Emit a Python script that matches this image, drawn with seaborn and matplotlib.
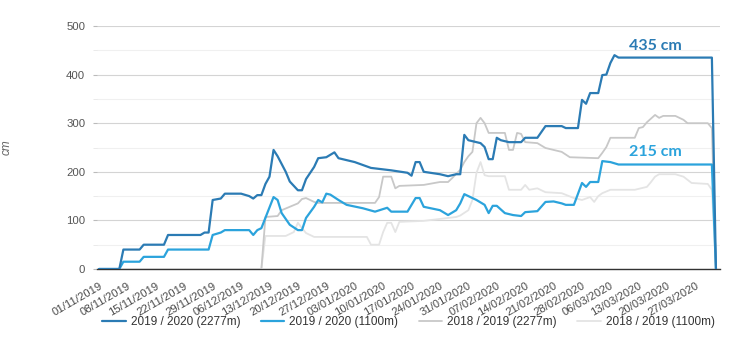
import pandas as pd
import matplotlib
matplotlib.use('Agg')
import matplotlib.pyplot as plt
from matplotlib.ticker import MultipleLocator
import seaborn as sns


start = pd.Timestamp('2019-11-01')

# snow depth (cm), keyed by days after 01/11/2019
hi_1920_day = [0, 5, 6, 10, 11, 16, 17, 25, 26, 27, 28, 30, 31, 35, 37, 38, 39, 40, 41, 42,
               43, 44, 46, 47, 49, 50, 51, 53, 54, 56, 58, 59, 63, 67, 72, 76, 77, 78, 79, 80,
               84, 86, 88, 89, 90, 91, 94, 95, 96, 97, 98, 99, 101, 104, 105, 108, 110, 114, 115, 118,
               119, 120, 121, 123, 124, 125, 126, 127, 128, 151, 152]
hi_1920_cm = [0, 0, 40, 40, 50, 50, 70, 70, 75, 75, 142, 145, 155, 155, 150, 145, 152, 152, 175, 190,
              245, 232, 200, 180, 162, 162, 185, 210, 228, 230, 240, 228, 220, 208, 203, 198, 192, 220, 220, 200,
              195, 191, 195, 195, 276, 265, 259, 251, 226, 226, 270, 265, 261, 261, 270, 270, 294, 294, 290, 290,
              348, 340, 362, 362, 399, 400, 424, 440, 435, 435, 0]

lo_1920_day = [0, 5, 6, 10, 11, 16, 17, 27, 28, 30, 31, 37, 38, 39, 40, 43, 44, 45, 47, 49,
               50, 51, 53, 54, 55, 56, 57, 59, 61, 65, 68, 71, 72, 76, 78, 79, 80, 84, 86, 88,
               89, 90, 93, 95, 96, 97, 98, 100, 102, 104, 105, 108, 110, 112, 114, 115, 117, 119, 120, 121,
               123, 124, 126, 128, 151, 152]
lo_1920_cm = [0, 0, 15, 15, 25, 25, 40, 40, 70, 75, 80, 80, 70, 80, 84, 148, 142, 115, 91, 80,
              80, 105, 128, 142, 137, 155, 153, 142, 132, 125, 118, 126, 118, 118, 146, 146, 128, 121, 111, 121,
              135, 154, 142, 132, 115, 130, 130, 115, 111, 109, 117, 119, 138, 139, 135, 132, 132, 177, 169, 179,
              179, 222, 220, 215, 215, 0]

hi_1819_day = [0, 40, 41, 44, 45, 47, 49, 50, 51, 53, 54, 68, 69, 70, 72, 73, 74, 80, 84, 86,
               87, 89, 90, 91, 92, 93, 94, 95, 96, 100, 101, 102, 103, 104, 105, 108, 110, 114, 116, 123,
               124, 125, 126, 132, 133, 134, 135, 137, 138, 139, 142, 144, 145, 150, 151, 152]
hi_1819_cm = [0, 0, 107, 109, 121, 128, 135, 144, 146, 138, 136, 136, 148, 190, 190, 166, 171, 173, 179, 179,
              187, 204, 220, 232, 241, 300, 311, 300, 280, 280, 245, 245, 280, 278, 261, 259, 249, 241, 230, 228,
              239, 251, 270, 270, 290, 292, 302, 317, 311, 315, 315, 307, 300, 300, 290, 0]

lo_1819_day = [0, 40, 41, 46, 48, 49, 50, 51, 53, 66, 67, 69, 70, 71, 72, 73, 74, 80, 84, 88,
               89, 91, 92, 93, 94, 95, 96, 100, 101, 104, 105, 106, 108, 110, 114, 117, 119, 121, 122, 123,
               124, 126, 132, 135, 136, 137, 138, 142, 144, 146, 150, 151, 152]
lo_1819_cm = [0, 0, 68, 68, 76, 95, 84, 74, 66, 66, 50, 50, 76, 95, 95, 76, 97, 99, 103, 107,
              110, 121, 142, 198, 220, 193, 191, 191, 163, 163, 173, 163, 166, 158, 156, 146, 142, 148, 138, 150,
              156, 163, 163, 169, 179, 190, 195, 195, 190, 177, 175, 163, 0]

labels = ['2019 / 2020 (2277m)', '2019 / 2020 (1100m)', '2018 / 2019 (2277m)', '2018 / 2019 (1100m)']
colors = ['#2b7bb4', '#2ba3dc', '#c8c8c8', '#e4e4e4']


def main():

    sns.set_style('white')
    plt.rcParams['font.family'] = ['Liberation Sans', 'DejaVu Sans']

    fig = plt.figure(figsize=(7.4, 3.52), dpi=100)
    ax = fig.add_axes([97 / 740, 1 - 269 / 352, 623 / 740, 243 / 352])

    series = [(hi_1920_day, hi_1920_cm), (lo_1920_day, lo_1920_cm),
              (hi_1819_day, hi_1819_cm), (lo_1819_day, lo_1819_cm)]
    widths = [1.6, 1.6, 1.3, 1.3]
    zorders = [6, 5, 4, 3]

    for (days, cm), lab, col, lw, z in zip(series, labels, colors, widths, zorders):
        dates = start + pd.to_timedelta(days, unit='D')
        sns.lineplot(x=dates, y=cm, color=col, lw=lw, label=lab, ax=ax,
                     estimator=None, sort=False, zorder=z)

    # latest value of this season, written above the flat end of each line
    for cm, col, off in [(hi_1920_cm, colors[0], 24), (lo_1920_cm, colors[1], 26)]:
        last = cm[-2]
        ax.text(start + pd.Timedelta(days=137), last + off, f'{last} cm',
                color=col, fontsize=11.5, fontweight='bold', family=['Lato', 'DejaVu Sans'],
                ha='center', va='center', zorder=7)

    ax.set_ylim(0, 500)
    ax.set_xlim(start - pd.Timedelta(hours=12), start + pd.Timedelta(days=153))
    ax.yaxis.set_major_locator(MultipleLocator(100))
    ax.yaxis.set_minor_locator(MultipleLocator(50))
    ax.grid(which='major', axis='y', color='#d4d4d4', lw=0.8)
    ax.grid(which='minor', axis='y', color='#f0f0f0', lw=0.8)
    ax.grid(axis='x', visible=False)
    ax.set_axisbelow(True)

    for side in ['left', 'top', 'right']:
        ax.spines[side].set_visible(False)
    ax.spines['bottom'].set_color('#333333')
    ax.spines['bottom'].set_linewidth(1)

    ticks = pd.date_range(start, periods=22, freq='7D')
    ax.set_xticks(ticks)
    ax.set_xticklabels([d.strftime('%d/%m/%Y') for d in ticks], rotation=30,
                       ha='right', va='top', rotation_mode='anchor')
    ax.tick_params(axis='x', length=0, pad=8.5, labelsize=8.1, labelcolor='#4a4a4a')
    ax.tick_params(axis='y', which='major', left=True, length=3, color='#bbbbbb',
                   pad=5.5, labelsize=8.2, labelcolor='#555555')
    ax.tick_params(axis='y', which='minor', left=True, length=3, color='#e6e6e6')

    ax.set_xlabel('')
    ax.set_ylabel('cm', fontstyle='italic', color='#666666', fontsize=8.5)
    ax.yaxis.set_label_coords((13 - 97) / 623, 0.5)

    ax.legend(loc='center', bbox_to_anchor=(0.5, -0.218), ncol=4, frameon=False,
              fontsize=8.5, handlelength=2.0, handletextpad=0.45, columnspacing=1.7,
              labelcolor='#333333')

    fig.savefig('out.png', dpi=100)


if __name__ == '__main__':
    main()
